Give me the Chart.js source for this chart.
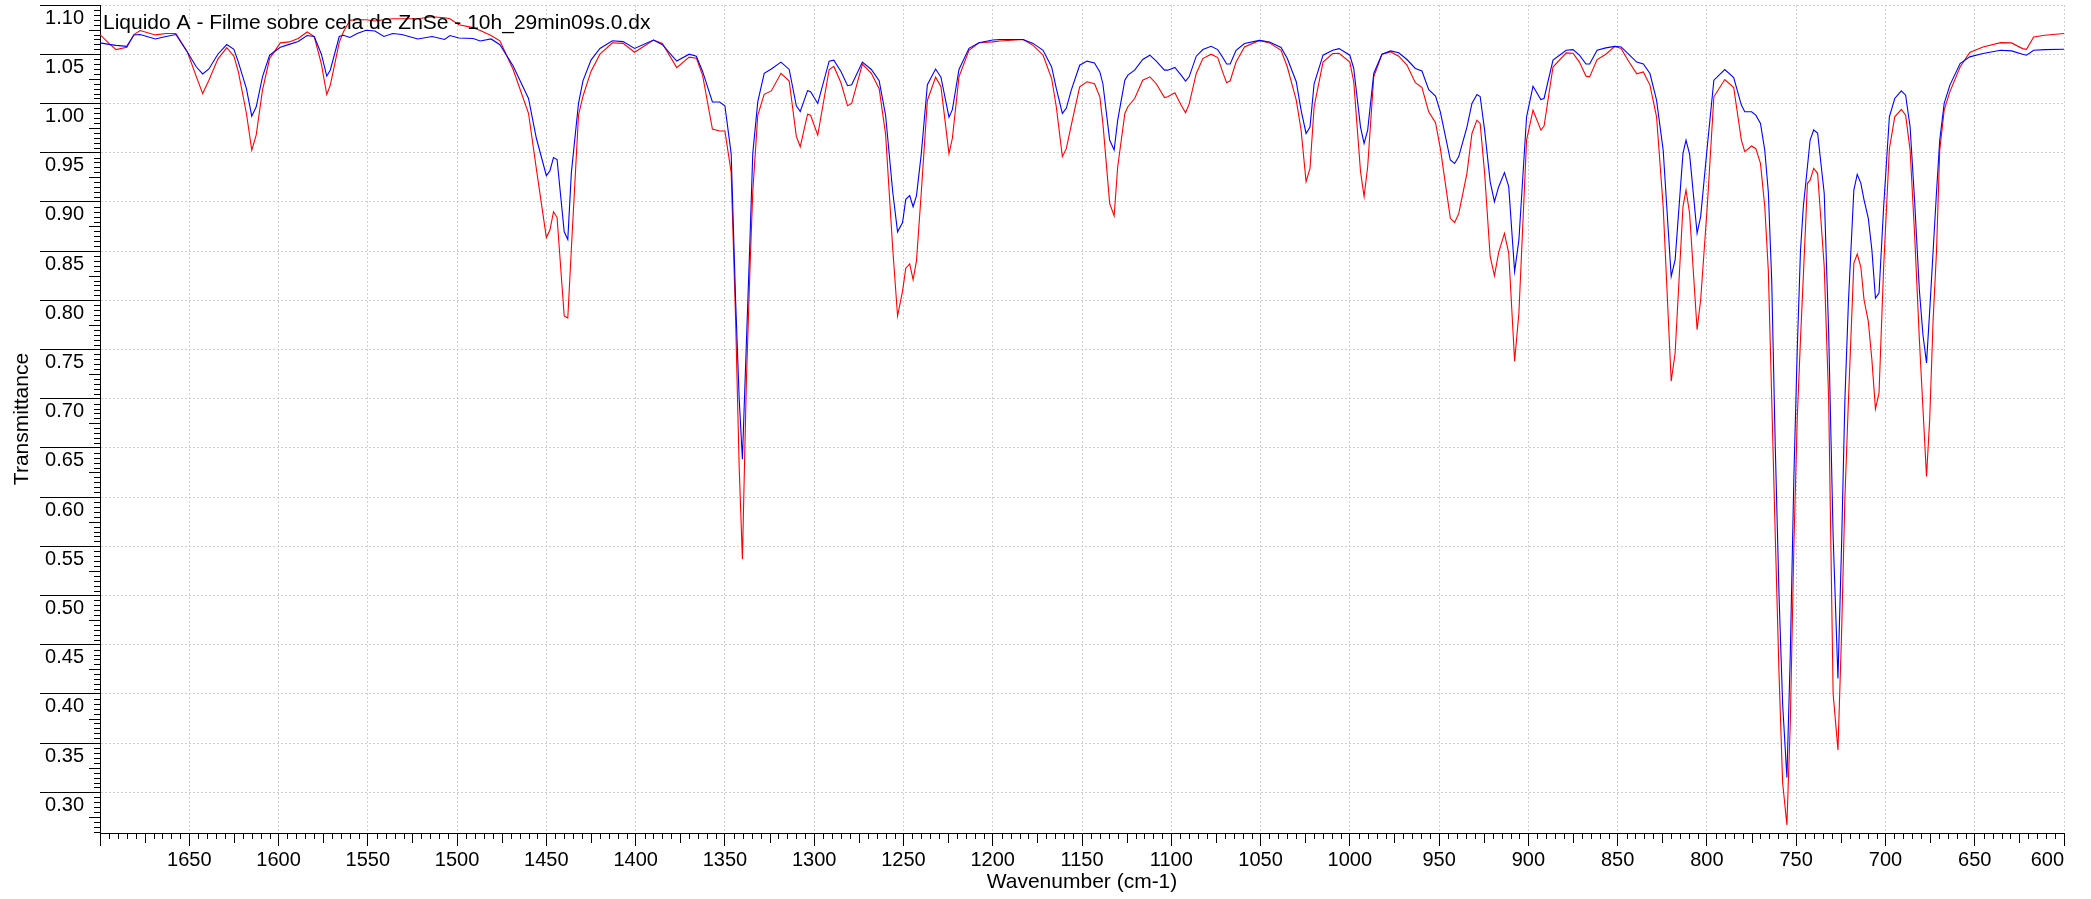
<!DOCTYPE html>
<html>
<head>
<meta charset="utf-8">
<title>Liquido A - Filme sobre cela de ZnSe</title>
<script src="https://cdn.jsdelivr.net/npm/chart.js@4.4.1/dist/chart.umd.min.js"></script>
<style>
  html, body { margin: 0; padding: 0; background: #fff; }
  canvas { display: block; }
</style>
</head>
<body>
<canvas id="spectrumChart" width="2091" height="899"></canvas>
<script>
const spectrumTitle = 'Liquido A - Filme sobre cela de ZnSe - 10h_29min09s.0.dx';

// wavenumber (cm-1)
const wavenumbers = [
  1700, 1695, 1691, 1685, 1681, 1677.5, 1669, 1663, 1657.5, 1651, 1646, 1642.5, 1639, 1634, 1629, 1625,
  1622.5, 1618, 1615, 1612.5, 1609, 1605, 1599, 1594, 1589, 1584, 1580, 1576, 1573, 1571, 1566, 1563.7,
  1560, 1556, 1551, 1546, 1541, 1536, 1531, 1522, 1514, 1507, 1504, 1499, 1491, 1487, 1481, 1476,
  1468.6, 1460, 1455.6, 1450, 1448, 1446, 1444, 1440, 1438, 1436, 1432, 1429.5, 1425, 1420, 1413, 1407,
  1400.6, 1390, 1385, 1377, 1370, 1366, 1362.5, 1357, 1353, 1350, 1346.5, 1344, 1342, 1340.2, 1338, 1336,
  1334.4, 1331.6, 1328, 1324, 1318.6, 1314, 1310, 1307.8, 1303.7, 1302, 1298, 1291.6, 1289, 1285, 1281.3, 1279,
  1273, 1268, 1263.6, 1260, 1256, 1253.3, 1250.5, 1248.7, 1246.5, 1244.6, 1242.7, 1240, 1236.6, 1232, 1229, 1224.5,
  1222.6, 1218.9, 1213.3, 1207.7, 1200, 1196, 1183, 1177.4, 1171.8, 1167, 1164.4, 1161, 1158.8, 1156, 1151.3, 1147.2,
  1143, 1140, 1138.3, 1134.5, 1132, 1130, 1126, 1124.3, 1120.5, 1116, 1112, 1108.4, 1103.8, 1102, 1098, 1094.5,
  1092, 1090, 1086, 1082.3, 1077.7, 1074, 1070.8, 1069, 1067, 1063.7, 1059, 1050.6, 1045, 1038.5, 1035, 1030,
  1027.3, 1024.5, 1022.3, 1020, 1015, 1009.6, 1006, 1000, 997.8, 994, 992, 990, 986.6, 982, 977.2, 972.6,
  968, 963.3, 959.6, 955.8, 952, 949.3, 943.7, 941.3, 939, 934.4, 931.6, 928.8, 927, 924.5, 921.4, 919,
  916.6, 913.4, 911, 907.7, 905.3, 901, 897.4, 893, 891.2, 886.2, 878.8, 875, 871.4, 867.7, 865.7, 861.5,
  856.6, 851.6, 848, 844.2, 839.3, 835.6, 831.9, 828.2, 824.5, 820, 817.8, 813.4, 811.7, 809.7, 805.5, 803.5,
  799.8, 796.1, 790, 785, 780.7, 778.8, 775, 772.6, 770, 767.6, 765.6, 763.7, 761.7, 759.6, 757.6, 755.2,
  753.3, 751.3, 749.4, 747.6, 746, 743.7, 742.2, 740.2, 738, 734.3, 731.8, 729.3, 726.6, 724.6, 722.7, 720.7,
  717.7, 715.8, 713.8, 712, 709.6, 707.6, 705.6, 703.6, 701, 697.8, 694.8, 691.1, 688.7, 686.2, 683.7, 681,
  679, 677, 675.2, 673.3, 671.4, 669.6, 667.1, 663.9, 658.2, 652.8, 645.4, 635.5, 629.4, 623.2, 621, 617,
  610.8, 600
];

// blue trace
const blueT = [
  1.0615, 1.060, 1.059, 1.058, 1.0696, 1.070, 1.0655, 1.068, 1.070, 1.052, 1.037, 1.030, 1.035, 1.050, 1.0598, 1.055,
  1.042, 1.015, 0.987, 0.9966, 1.027, 1.049, 1.057, 1.060, 1.063, 1.069, 1.068, 1.050, 1.0277, 1.034, 1.068, 1.0692,
  1.067, 1.071, 1.0743, 1.0736, 1.068, 1.071, 1.070, 1.0655, 1.068, 1.065, 1.069, 1.0665, 1.066, 1.0635, 1.0655, 1.0597,
  1.038, 1.005, 0.9646, 0.9266, 0.9316, 0.945, 0.943, 0.8695, 0.8617, 0.9297, 1.000, 1.023, 1.044, 1.0558, 1.0636, 1.0628,
  1.0558, 1.0644, 1.0597, 1.043, 1.050, 1.048, 1.0325, 1.0015, 1.0015, 0.9976, 0.949, 0.80, 0.70, 0.6384, 0.755, 0.86,
  0.949, 1.0015, 1.0306, 1.035, 1.042, 1.0345, 0.9976, 0.9918, 1.013, 1.012, 1.000, 1.043, 1.044, 1.0325, 1.018, 1.019,
  1.042, 1.0345, 1.023, 0.988, 0.910, 0.8695, 0.879, 0.9025, 0.9064, 0.895, 0.9064, 0.949, 1.019, 1.035, 1.0267, 0.986,
  0.9937, 1.0345, 1.056, 1.0616, 1.0644, 1.0649, 1.0649, 1.061, 1.054, 1.037, 1.0152, 0.9898, 0.995, 1.0135, 1.0388, 1.043,
  1.041, 1.032, 1.020, 0.9628, 0.9526, 0.983, 1.0236, 1.0287, 1.0338, 1.0446, 1.049, 1.043, 1.0338, 1.0338, 1.0365, 1.0287,
  1.0226, 1.027, 1.048, 1.0547, 1.058, 1.0547, 1.0456, 1.040, 1.040, 1.054, 1.0608, 1.064, 1.0625, 1.0568, 1.0456, 1.022,
  0.9932, 0.9695, 0.976, 1.020, 1.049, 1.054, 1.0557, 1.049, 1.0355, 0.976, 0.9594, 0.9729, 1.0304, 1.050, 1.0534, 1.0514,
  1.0446, 1.0355, 1.033, 1.014, 1.0074, 0.9915, 0.9425, 0.939, 0.946, 0.976, 1.000, 1.009, 1.007, 0.9729, 0.9205, 0.9002,
  0.9154, 0.9297, 0.9154, 0.8292, 0.8613, 0.9864, 1.0175, 1.004, 1.005, 1.044, 1.054, 1.0547, 1.049, 1.040, 1.040, 1.054,
  1.0564, 1.058, 1.0574, 1.0507, 1.042, 1.040, 1.0304, 1.0033, 0.9526, 0.8242, 0.8411, 0.9492, 0.9628, 0.9485, 0.8681, 0.885,
  0.956, 1.0236, 1.0344, 1.0263, 0.9983, 0.9915, 0.9915, 0.9881, 0.9797, 0.9526, 0.91, 0.82, 0.65, 0.50, 0.39, 0.315,
  0.44, 0.62, 0.75, 0.85, 0.895, 0.9357, 0.9628, 0.973, 0.970, 0.9087, 0.7667, 0.56, 0.4157, 0.55, 0.70, 0.80,
  0.912, 0.928, 0.919, 0.902, 0.8833, 0.8512, 0.8022, 0.8073, 0.8952, 0.9864, 1.005, 1.0128, 1.0084, 0.9763, 0.902, 0.81,
  0.765, 0.7364, 0.79, 0.85, 0.91, 0.9628, 1.000, 1.0186, 1.0405, 1.0473, 1.0507, 1.054, 1.0534, 1.050, 1.049, 1.054,
  1.0547, 1.055
];

// red trace
const redT = [
  1.070, 1.061, 1.0547, 1.057, 1.070, 1.074, 1.0696, 1.071, 1.071, 1.052, 1.027, 1.010, 1.0236, 1.045, 1.0567, 1.048,
  1.032, 0.990, 0.9526, 0.968, 1.0135, 1.0456, 1.0615, 1.0625, 1.066, 1.0726, 1.068, 1.040, 1.009, 1.0185, 1.062, 1.0726,
  1.0845, 1.085, 1.085, 1.0838, 1.085, 1.086, 1.086, 1.086, 1.088, 1.087, 1.086, 1.080, 1.077, 1.074, 1.069, 1.0636,
  1.0345, 0.990, 0.9335, 0.8637, 0.8714, 0.890, 0.884, 0.784, 0.782, 0.852, 0.988, 1.0073, 1.0325, 1.050, 1.0616, 1.061,
  1.052, 1.0644, 1.061, 1.0364, 1.047, 1.046, 1.0286, 0.974, 0.972, 0.972, 0.930, 0.78, 0.63, 0.537, 0.716, 0.83,
  0.910, 0.988, 1.0092, 1.0127, 1.0306, 1.0228, 0.9665, 0.956, 0.989, 0.988, 0.9677, 1.0345, 1.0376, 1.021, 0.9976, 1.000,
  1.040, 1.0306, 1.015, 0.9685, 0.852, 0.784, 0.8093, 0.8326, 0.837, 0.8209, 0.840, 0.910, 1.003, 1.0267, 1.017, 0.949,
  0.9646, 1.027, 1.054, 1.0616, 1.0625, 1.0635, 1.0649, 1.059, 1.049, 1.0253, 0.9966, 0.9459, 0.954, 0.978, 1.0169, 1.022,
  1.020, 1.0067, 0.9797, 0.8985, 0.8857, 0.9357, 0.9898, 0.9966, 1.005, 1.0236, 1.027, 1.020, 1.006, 1.0067, 1.0108, 0.9983,
  0.9905, 0.9993, 1.0304, 1.0456, 1.050, 1.0466, 1.0297, 1.021, 1.023, 1.042, 1.0574, 1.064, 1.0615, 1.054, 1.037, 1.0033,
  0.973, 0.9205, 0.934, 0.9966, 1.042, 1.0507, 1.051, 1.042, 1.022, 0.9307, 0.9053, 0.9357, 1.027, 1.050, 1.0524, 1.048,
  1.039, 1.021, 1.016, 0.9915, 0.9804, 0.9543, 0.8833, 0.879, 0.888, 0.929, 0.9695, 0.983, 0.9797, 0.929, 0.8445, 0.8249,
  0.849, 0.868, 0.848, 0.738, 0.787, 0.9628, 0.9932, 0.973, 0.977, 1.037, 1.0514, 1.051, 1.042, 1.0277, 1.027, 1.0446,
  1.050, 1.058, 1.0557, 1.0439, 1.030, 1.032, 1.0186, 0.9864, 0.8952, 0.7177, 0.7464, 0.8952, 0.912, 0.8884, 0.770, 0.8005,
  0.8952, 1.0067, 1.0243, 1.0162, 0.9628, 0.951, 0.9567, 0.954, 0.939, 0.8952, 0.83, 0.70, 0.56, 0.42, 0.31, 0.267,
  0.37, 0.55, 0.68, 0.76, 0.824, 0.9188, 0.922, 0.934, 0.929, 0.8343, 0.699, 0.40, 0.343, 0.46, 0.60, 0.70,
  0.8377, 0.847, 0.834, 0.8005, 0.7785, 0.7397, 0.6896, 0.7059, 0.8343, 0.954, 0.9864, 0.9939, 0.9881, 0.9526, 0.868, 0.76,
  0.69, 0.621, 0.68, 0.78, 0.85, 0.9526, 0.9932, 1.012, 1.037, 1.0517, 1.0574, 1.0618, 1.0615, 1.0557, 1.055, 1.0676,
  1.0693, 1.071
];

const xTicks = [1700, 1650, 1600, 1550, 1500, 1450, 1400, 1350, 1300, 1250, 1200, 1150,
  1100, 1050, 1000, 950, 900, 850, 800, 750, 700, 650, 600];
const yTicks = [0.30, 0.35, 0.40, 0.45, 0.50, 0.55, 0.60, 0.65, 0.70, 0.75, 0.80, 0.85,
  0.90, 0.95, 1.00, 1.05, 1.10];

const toPoints = vals => wavenumbers.map((w, i) => ({ x: w, y: vals[i] }));

const fontFamily = "'Liberation Sans', Arial, sans-serif";
Chart.defaults.font.family = fontFamily;
Chart.defaults.font.size = 20;
Chart.defaults.color = '#000';

// small ticks between the labelled ones + the file name inside the plot
const axisExtras = {
  id: 'axisExtras',
  afterDraw(chart) {
    const { ctx, scales: { x, y } } = chart;
    ctx.save();
    ctx.strokeStyle = '#000';
    ctx.lineWidth = 1;
    ctx.beginPath();
    for (let w = 605; w < 1700; w += 5) {
      if (w % 50 === 0) continue;
      const px = Math.round(x.getPixelForValue(w)) + 0.5;
      const len = w % 25 === 0 ? 10 : 6;
      ctx.moveTo(px, y.bottom);
      ctx.lineTo(px, y.bottom + len);
    }
    for (let k = Math.ceil(y.min / 0.005); k * 0.005 <= y.max + 1e-9; k++) {
      if (k % 10 === 0) continue;
      const py = Math.round(y.getPixelForValue(k * 0.005)) + 0.5;
      const len = k % 5 === 0 ? 11 : 6;
      ctx.moveTo(x.left, py);
      ctx.lineTo(x.left - len, py);
    }
    ctx.stroke();

    ctx.fillStyle = '#000';
    ctx.font = '21px ' + fontFamily;
    ctx.textAlign = 'left';
    ctx.textBaseline = 'alphabetic';
    ctx.fillText(spectrumTitle, x.left + 3, chart.chartArea.top + 24);
    ctx.restore();
  }
};

const ctx = document.getElementById('spectrumChart').getContext('2d');
const spectrumChart = new Chart(ctx, {
  type: 'line',
  data: {
    datasets: [
      { label: 'blue', data: toPoints(blueT), borderColor: '#0000ff', borderWidth: 1.1, pointRadius: 0, tension: 0 },
      { label: 'red', data: toPoints(redT), borderColor: '#ff0000', borderWidth: 1.1, pointRadius: 0, tension: 0 }
    ]
  },
  options: {
    responsive: false,
    animation: false,
    devicePixelRatio: 1,
    parsing: false,
    layout: { padding: { left: 0, right: 27, top: 5, bottom: 0 } },
    plugins: { legend: { display: false }, tooltip: { enabled: false } },
    scales: {
      x: {
        type: 'linear',
        reverse: true,
        min: 600,
        max: 1700,
        afterBuildTicks: scale => { scale.ticks = xTicks.map(v => ({ value: v })); },
        afterFit: scale => { scale.height = 66; scale.paddingLeft = 0; scale.paddingRight = 0; },
        ticks: {
          autoSkip: false,
          maxRotation: 0,
          padding: 2,
          callback: v => v === 1700 ? '' : (v === 600 ? '600      ' : String(v))
        },
        grid: { color: '#cfcfcf', tickColor: '#000', tickLength: 13, tickBorderDash: [] },
        border: { color: '#000', width: 1, dash: [2, 2] },
        title: { display: true, text: 'Wavenumber (cm-1)', font: { size: 21 }, padding: { top: 0, bottom: 4 } }
      },
      y: {
        min: 0.2587,
        max: 1.10,
        afterBuildTicks: scale => { scale.ticks = yTicks.map(v => ({ value: v })); },
        afterFit: scale => { scale.width = 100; scale.paddingTop = 0; scale.paddingBottom = 0; },
        ticks: {
          padding: -44,
          labelOffset: 13,
          callback: v => v.toFixed(2)
        },
        grid: { color: '#cfcfcf', tickColor: '#000', tickLength: 60, tickBorderDash: [] },
        border: { color: '#000', width: 1, dash: [2, 2] },
        title: { display: true, text: 'Transmittance', font: { size: 21 }, padding: { top: 10, bottom: 0 } }
      }
    }
  },
  plugins: [axisExtras]
});
</script>
</body>
</html>
